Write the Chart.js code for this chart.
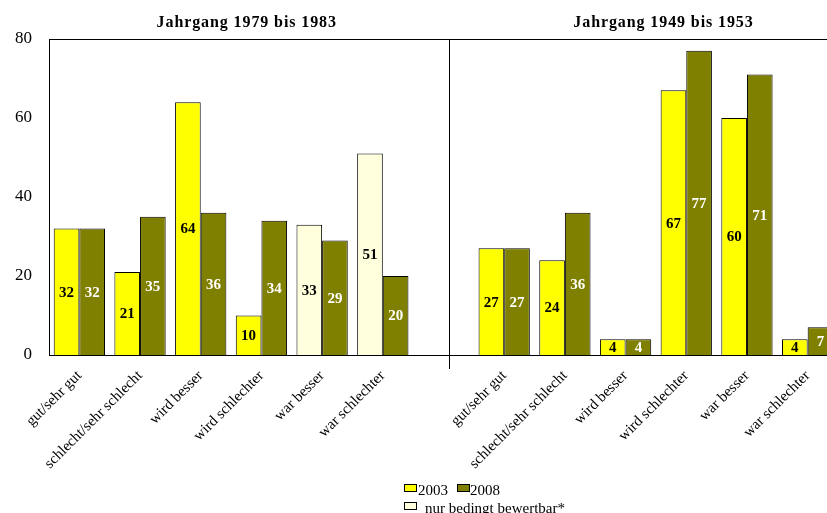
<!DOCTYPE html>
<html lang="de">
<head>
<meta charset="UTF-8" />
<title>Jahrgang 1979 bis 1983 / 1949 bis 1953</title>
<script src="https://cdn.jsdelivr.net/npm/chart.js@4.4.0/dist/chart.umd.min.js"></script>
<style>
  html, body { margin: 0; padding: 0; background: #fff; overflow: hidden; }
  #wrap { width: 827px; height: 513px; overflow: hidden; }
</style>
</head>
<body>
<div id="wrap">
  <canvas id="chart" width="845" height="513"></canvas>
</div>
<script>
// --- data -------------------------------------------------------------
const categories = ["gut/sehr gut", "schlecht/sehr schlecht", "wird besser",
                    "wird schlechter", "war besser", "war schlechter"];
const panelTitles = ["Jahrgang 1979 bis 1983", "Jahrgang 1949 bis 1953"];

const young2003 = [32, 21, 64, 10, 33, 51];
const young2008 = [32, 35, 36, 34, 29, 20];
const old2003 = [27, 24, 4, 67, 60, 4];
const old2008 = [27, 36, 4, 77, 71, 7];
// 2003 values of the young cohort that are only partly comparable
const youngLimited = [false, false, false, false, true, true];

const yTicks = [0, 20, 40, 60, 80];
const seriesNames = ["2003", "2008"];
const limitedName = "nur bedingt bewertbar*";

// --- colours ----------------------------------------------------------
const YELLOW = "#ffff00";
const OLIVE = "#808000";
const CREAM = "#ffffdd";
const FONT = "'Liberation Serif', 'Times New Roman', serif";

// one empty slot between the two panels
const labels = [...categories, "", ...categories];
const data2003 = [...young2003, null, ...old2003];
const data2008 = [...young2008, null, ...old2008];
const colors2003 = [...youngLimited.map(l => (l ? CREAM : YELLOW)), YELLOW, ...old2003.map(() => YELLOW)];

const panelsPlugin = {
  id: "panels",
  afterDraw(chart) {
    const ctx = chart.ctx;
    const area = chart.chartArea;
    const x = chart.scales.x;
    const sep = x.getPixelForValue(categories.length) + 5;

    ctx.save();
    ctx.strokeStyle = "#000";
    ctx.lineWidth = 1;
    // top frame line
    ctx.beginPath();
    ctx.moveTo(area.left, Math.round(area.top) + 0.5);
    ctx.lineTo(chart.width, Math.round(area.top) + 0.5);
    ctx.stroke();
    // panel separator
    ctx.beginPath();
    ctx.moveTo(Math.round(sep) + 0.5, area.top);
    ctx.lineTo(Math.round(sep) + 0.5, area.bottom + 14);
    ctx.stroke();

    // panel titles
    ctx.fillStyle = "#000";
    ctx.font = "bold 16px " + FONT;
    ctx.letterSpacing = "0.9px";
    ctx.textAlign = "center";
    ctx.textBaseline = "alphabetic";
    ctx.fillText(panelTitles[0], (area.left + sep) / 2 - 2, 27);
    ctx.fillText(panelTitles[1], sep + 215, 27);
    ctx.letterSpacing = "0px";

    // value labels inside the bars
    ctx.font = "bold 15px " + FONT;
    ctx.textBaseline = "middle";
    chart.data.datasets.forEach((ds, di) => {
      const meta = chart.getDatasetMeta(di);
      meta.data.forEach((bar, i) => {
        const v = ds.data[i];
        if (v === null || v === undefined) return;
        ctx.fillStyle = di === 0 ? "#000" : "#fff";
        ctx.fillText(String(v), bar.x, (bar.y + bar.base) / 2 + 1);
      });
    });

    // legend
    const items = [
      { color: YELLOW, text: seriesNames[0], x: 404, y: 484, tx: 418 },
      { color: OLIVE, text: seriesNames[1], x: 457, y: 484, tx: 470 },
      { color: CREAM, text: limitedName, x: 404, y: 502, tx: 425 },
    ];
    ctx.font = "15px " + FONT;
    ctx.textAlign = "left";
    ctx.textBaseline = "alphabetic";
    items.forEach(it => {
      ctx.fillStyle = it.color;
      ctx.fillRect(it.x, it.y, 12, 7);
      ctx.strokeRect(it.x + 0.5, it.y + 0.5, 12, 7);
      ctx.fillStyle = "#000";
      ctx.fillText(it.text, it.tx, it.y + 11);
    });
    ctx.restore();
  },
};

new Chart(document.getElementById("chart"), {
  type: "bar",
  data: {
    labels: labels,
    datasets: [
      {
        label: seriesNames[0],
        data: data2003,
        backgroundColor: colors2003,
        borderColor: "#000",
        borderWidth: 1,
        categoryPercentage: 0.845,
        barPercentage: 1.0,
      },
      {
        label: seriesNames[1],
        data: data2008,
        backgroundColor: OLIVE,
        borderColor: "#000",
        borderWidth: 1,
        categoryPercentage: 0.845,
        barPercentage: 1.0,
      },
    ],
  },
  options: {
    responsive: false,
    animation: false,
    layout: { padding: { top: 39, right: 7, bottom: 0, left: 0 } },
    plugins: {
      legend: { display: false },
      tooltip: { enabled: false },
      title: { display: false },
    },
    scales: {
      x: {
        grid: { display: false, drawTicks: false },
        border: { display: true, color: "#000", width: 1 },
        ticks: {
          autoSkip: false,
          maxRotation: 45,
          minRotation: 45,
          padding: 12,
          color: "#000",
          font: { family: FONT, size: 15 },
        },
        afterFit(scale) { scale.height = 158; },
      },
      y: {
        min: 0,
        max: 80,
        afterBuildTicks(scale) { scale.ticks = yTicks.map(v => ({ value: v })); },
        grid: { display: false, drawTicks: false },
        border: { display: true, color: "#000", width: 1 },
        ticks: {
          padding: 17,
          color: "#000",
          font: { family: FONT, size: 17 },
        },
        afterFit(scale) { scale.width = 49; },
      },
    },
  },
  plugins: [panelsPlugin],
});
</script>
</body>
</html>
